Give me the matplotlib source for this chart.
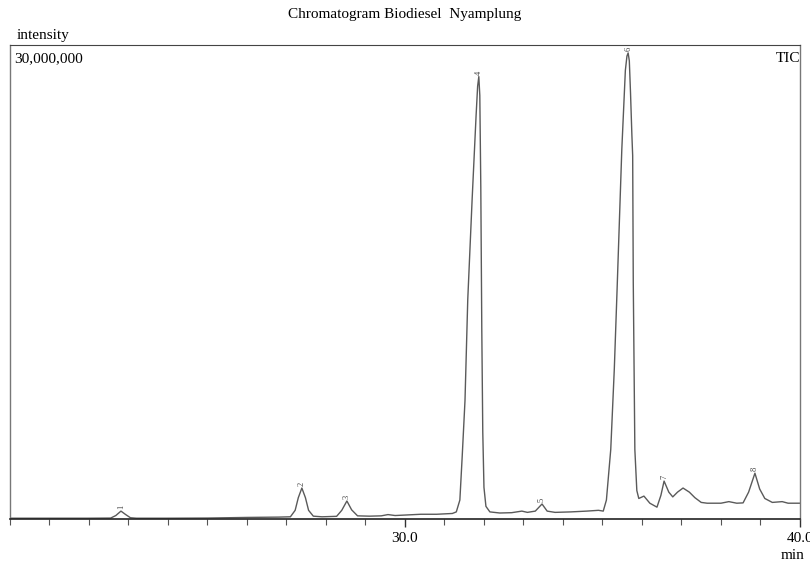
import matplotlib
matplotlib.use('Agg')  # no GUI
import matplotlib.pyplot as plt
from matplotlib.ticker import MultipleLocator

# retention time (min) and TIC intensity (millions)
rt = [20.00, 21.00, 22.00, 22.55, 22.68, 22.81, 22.93, 23.05, 23.20, 24.00,
      25.00, 26.00, 26.80, 27.10, 27.22, 27.30, 27.39, 27.48, 27.56, 27.68,
      27.90, 28.27, 28.40, 28.53, 28.65, 28.80, 29.10, 29.40, 29.57, 29.75,
      30.00, 30.40, 30.80, 31.20, 31.30, 31.39, 31.45, 31.52, 31.59, 31.70,
      31.80, 31.84, 31.87, 31.895, 31.92, 31.945, 31.97, 32.00, 32.05, 32.15,
      32.40, 32.70, 32.96, 33.10, 33.30, 33.47, 33.60, 33.80, 34.20, 34.60,
      34.90, 35.02, 35.10, 35.21, 35.30, 35.37, 35.49, 35.58, 35.62, 35.65,
      35.68, 35.71, 35.745, 35.765, 35.78, 35.82, 35.87, 35.92, 36.05, 36.20,
      36.38, 36.48, 36.56, 36.68, 36.78, 36.90, 37.04, 37.20, 37.34, 37.50,
      37.65, 38.00, 38.20, 38.40, 38.56, 38.70, 38.86, 38.98, 39.11, 39.30,
      39.55, 39.70, 40.00]
intensity = [0.05, 0.05, 0.05, 0.06, 0.22, 0.50, 0.28, 0.08, 0.05, 0.05,
             0.06, 0.10, 0.12, 0.14, 0.55, 1.35, 1.96, 1.35, 0.55, 0.18,
             0.14, 0.17, 0.55, 1.14, 0.58, 0.20, 0.18, 0.20, 0.28, 0.22,
             0.25, 0.30, 0.30, 0.35, 0.45, 1.20, 4.00, 7.50, 13.9, 20.2,
             25.5, 27.4, 28.0, 26.8, 21.0, 12.0, 5.50, 2.00, 0.80, 0.45,
             0.38, 0.40, 0.50, 0.42, 0.50, 0.95, 0.50, 0.42, 0.45, 0.50,
             0.55, 0.50, 1.20, 4.40, 9.50, 14.5, 23.4, 28.4, 29.3, 29.5,
             29.0, 27.0, 24.3, 23.0, 15.0, 4.40, 1.80, 1.30, 1.45, 1.00,
             0.75, 1.50, 2.40, 1.70, 1.40, 1.70, 1.96, 1.70, 1.35, 1.05,
             1.00, 1.00, 1.10, 1.00, 1.02, 1.70, 2.90, 1.90, 1.30, 1.05,
             1.10, 1.00, 1.00]

# labelled peaks
peak_no = ['1', '2', '3', '4', '5', '6', '7', '8']
peak_rt = [22.81, 27.39, 28.53, 31.87, 33.47, 35.65, 36.56, 38.86]
peak_int = [0.50, 1.96, 1.14, 28.0, 0.95, 29.5, 2.40, 2.90]

plt.rcParams['font.family'] = ['Liberation Serif', 'DejaVu Serif']

fig = plt.figure(figsize=(8.1, 5.62), dpi=100)
ax = fig.add_axes([0.0123, 0.0765, 0.9753, 0.8434])

ax.plot(rt, intensity, color='#5a5a5a', lw=1.0)

# peak numbers, written sideways above each apex
for n, x, y in zip(peak_no, peak_rt, peak_int):
    ax.text(x, y + 0.12, n, rotation=90, fontsize=6, color='#444444',
            ha='center', va='bottom')

ax.set_xlim(20, 40)
ax.set_ylim(0, 30)

ax.set_xticks([30, 40])
ax.set_xticklabels(['30.0', '40.0'], fontsize=11)
ax.xaxis.set_minor_locator(MultipleLocator(1))
ax.tick_params(axis='x', which='major', direction='out', length=6, width=1,
               color='#333333', pad=3)
ax.tick_params(axis='x', which='minor', direction='out', length=4, width=0.8,
               color='#555555')
ax.set_yticks([])

for side in ['left', 'right']:
    ax.spines[side].set_color('#777777')
    ax.spines[side].set_linewidth(1)
ax.spines['top'].set_color('#444444')
ax.spines['bottom'].set_color('#222222')
ax.spines['bottom'].set_linewidth(1.2)

ax.text(0.005, 0.985, '30,000,000', transform=ax.transAxes, fontsize=11,
        ha='left', va='top')
ax.text(1.0, 0.985, 'TIC', transform=ax.transAxes, fontsize=11,
        ha='right', va='top')

fig.text(0.021, 0.925, 'intensity', fontsize=11, ha='left', va='bottom')
fig.text(0.5, 0.975, 'Chromatogram Biodiesel  Nyamplung', fontsize=11,
         ha='center', va='center')
fig.text(0.979, 0.012, 'min', fontsize=11, ha='center', va='center')

plt.savefig('out.png', dpi=100)
plt.close(fig)
